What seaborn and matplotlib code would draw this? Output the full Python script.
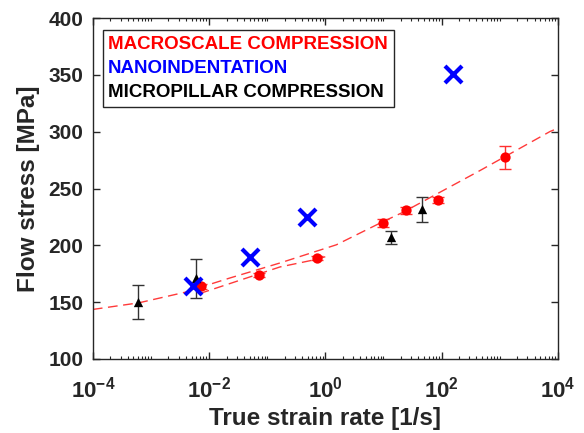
import numpy as np
import pandas as pd
import matplotlib
matplotlib.use("Agg")
import matplotlib.pyplot as plt
import seaborn as sns

# ---- data ----
macro_rate = [0.0074, 0.072, 0.72, 10.0, 24.4, 86.0, 1250.0]
macro_stress = [164, 174, 189, 220, 231, 240, 277.5]
macro_err = [2, 2, 2, 3.5, 3, 3, 10]

nano_rate = [0.0052, 0.05, 0.48, 155.0]
nano_stress = [164, 190, 225, 351]

micro_rate = [0.00061, 0.0059, 13.5, 46.6]
micro_stress = [150, 171, 207, 232]
micro_err = [15, 17, 5.5, 11]

# dashed fit curves
fitA_rate = [1e-4, 6.17e-4, 4.07e-3, 7.41e-3, 0.0229, 0.166, 1.55, 9.77, 21.9, 457, 7413, 1e4]
fitA_stress = [143.6, 149.4, 159, 163.4, 171.3, 184.5, 200.5, 220.8, 229.2, 265.8, 300.3, 303]
fitB_rate = [6.9e-3, 2.29e-2, 0.166, 0.71, 1.0]
fitB_stress = [157.6, 166.4, 181, 187.7, 190]

legend_labels = ["MACROSCALE COMPRESSION", "NANOINDENTATION", "MICROPILLAR COMPRESSION"]
legend_colors = ["#ff0000", "#0000ff", "#000000"]

xticks = [1e-4, 1e-2, 1e0, 1e2, 1e4]
xticklabels = ["$\\mathbf{10^{-4}}$", "$\\mathbf{10^{-2}}$", "$\\mathbf{10^{0}}$",
               "$\\mathbf{10^{2}}$", "$\\mathbf{10^{4}}$"]
yticks = [100, 150, 200, 250, 300, 350, 400]

sns.set_style("ticks")
plt.rcParams["font.family"] = ["Liberation Sans", "DejaVu Sans"]
plt.rcParams["font.weight"] = "bold"
plt.rcParams["mathtext.fontset"] = "custom"
plt.rcParams["mathtext.rm"] = "Liberation Sans"
plt.rcParams["mathtext.bf"] = "Liberation Sans:bold"

fig = plt.figure(figsize=(5.84, 4.33), dpi=100)
ax = fig.add_axes([0.159, 0.171, 0.796, 0.787])

dfA = pd.DataFrame({"rate": fitA_rate, "stress": fitA_stress})
dfB = pd.DataFrame({"rate": fitB_rate, "stress": fitB_stress})
sns.lineplot(data=dfA, x="rate", y="stress", ax=ax, color="#ff3a3a", lw=1.0,
             dashes=False, zorder=1)
sns.lineplot(data=dfB, x="rate", y="stress", ax=ax, color="#ff3a3a", lw=1.0,
             dashes=False, zorder=1)
for ln in ax.lines:
    ln.set_dashes([7, 4])

ax.errorbar(micro_rate, micro_stress, yerr=micro_err, fmt="none", ecolor="#333333",
            elinewidth=1.0, capsize=4, capthick=1.0, zorder=2)
ax.errorbar(macro_rate, macro_stress, yerr=macro_err, fmt="none", ecolor="#ff3030",
            elinewidth=1.0, capsize=4, capthick=1.0, zorder=2)

dfM = pd.DataFrame({"rate": macro_rate, "stress": macro_stress})
dfN = pd.DataFrame({"rate": nano_rate, "stress": nano_stress})
dfP = pd.DataFrame({"rate": micro_rate, "stress": micro_stress})
sns.scatterplot(data=dfM, x="rate", y="stress", ax=ax, color="#ff0000", marker="o",
                s=55, edgecolor="#ff0000", linewidth=0, zorder=3)
sns.scatterplot(data=dfP, x="rate", y="stress", ax=ax, color="#000000", marker="^",
                s=45, edgecolor="#000000", linewidth=0, zorder=4)
sns.scatterplot(data=dfN, x="rate", y="stress", ax=ax, color="#0000ff", marker="x",
                s=150, linewidth=3, zorder=5)

ax.set_xscale("log")
ax.set_xlim(1e-4, 1e4)
ax.set_ylim(100, 400)
ax.set_xticks(xticks)
ax.set_xticklabels(xticklabels)
ax.xaxis.set_minor_locator(matplotlib.ticker.LogLocator(base=10, subs=np.arange(1, 10), numticks=100))
ax.xaxis.set_minor_formatter(matplotlib.ticker.NullFormatter())
ax.set_yticks(yticks)
ax.tick_params(axis="both", which="both", direction="in", top=True, right=True,
               colors="#262626", labelcolor="#262626")
ax.tick_params(axis="both", which="major", length=5, width=1.0)
ax.tick_params(axis="x", which="major", labelsize=16, pad=13)
ax.tick_params(axis="y", which="major", labelsize=15, pad=7)
ax.tick_params(axis="x", which="minor", length=2.5, width=0.8)
for lbl in ax.get_yticklabels():
    lbl.set_fontweight("bold")
for sp in ax.spines.values():
    sp.set_color("#262626")
    sp.set_linewidth(1.0)

ax.set_xlabel("True strain rate [1/s]", fontsize=17.5, fontweight="bold", color="#262626", labelpad=3)
ax.set_ylabel("Flow stress [MPa]", fontsize=17.5, fontweight="bold", color="#262626", labelpad=6)

handles = [matplotlib.lines.Line2D([], [], linestyle="none", marker=None) for _ in legend_labels]
leg = ax.legend(handles, legend_labels, loc="upper left", bbox_to_anchor=(0.021, 0.965),
                handlelength=0, handletextpad=0, frameon=True, fancybox=False,
                edgecolor="#262626", framealpha=1, borderpad=0.3, labelspacing=0.37,
                borderaxespad=0, prop={"weight": "bold", "size": 13.5})
leg.get_frame().set_linewidth(1.0)
for t, c in zip(leg.get_texts(), legend_colors):
    t.set_color(c)

fig.savefig("out.png", dpi=100)
